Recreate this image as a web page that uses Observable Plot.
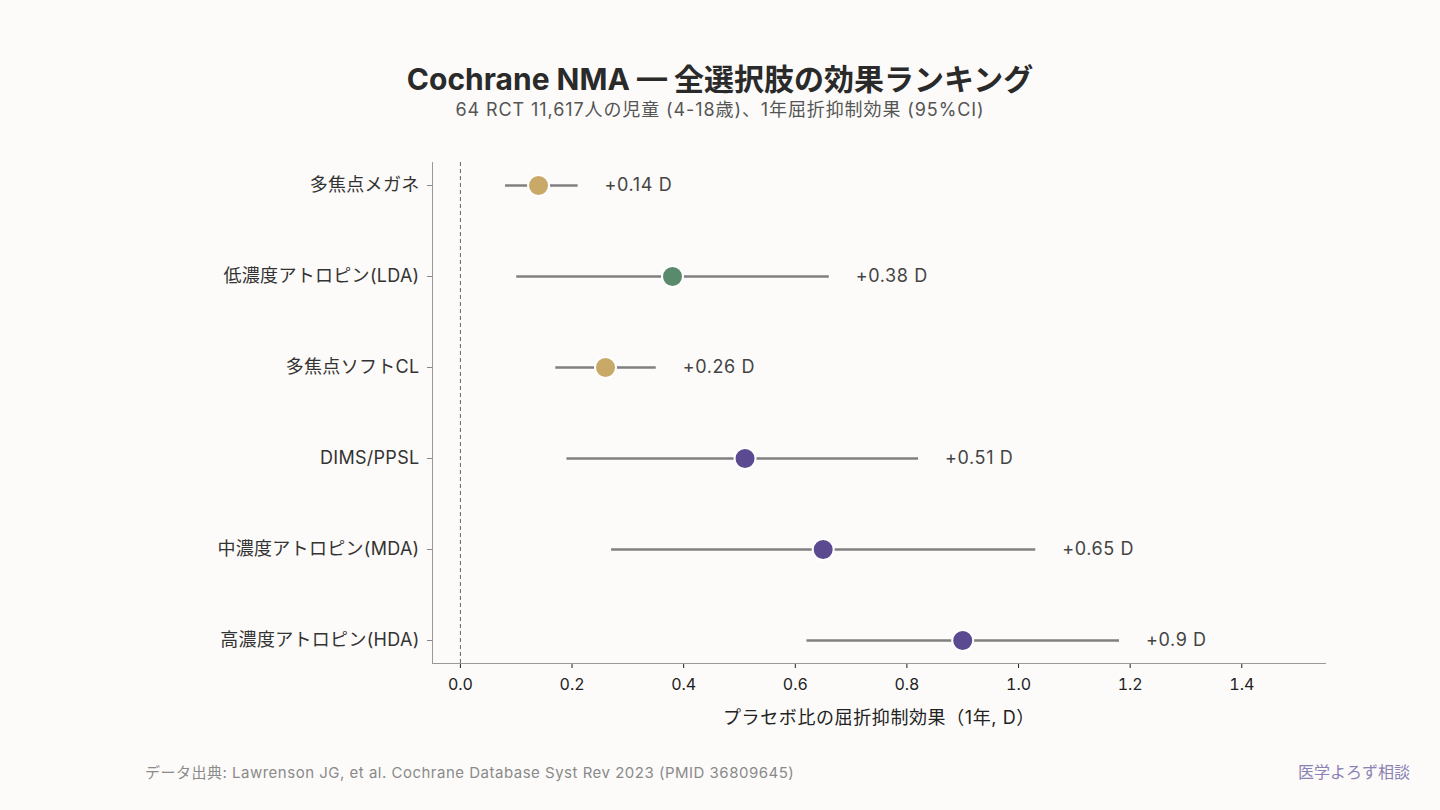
<!DOCTYPE html>
<html>
<head>
<meta charset="utf-8">
<script src="https://cdn.jsdelivr.net/npm/d3@7"></script>
<script src="https://cdn.jsdelivr.net/npm/@observablehq/plot@0.6"></script>
<style>
  html, body { margin: 0; padding: 0; background: #FCFBF9; width: 1440px; height: 810px; overflow: hidden; }
  body { position: relative; font-family: Inter, "Noto Sans CJK JP", sans-serif; }
  .abs { position: absolute; line-height: 1; white-space: nowrap; }
  #title { left: 0; width: 1440px; top: 64px; text-align: center; font-size: 30px; font-weight: bold; color: #2a2a2a; }
  #subtitle { left: 0; width: 1440px; top: 101px; text-align: center; font-size: 18px; letter-spacing: 0.9px; color: #555; }
  #chart { position: absolute; left: 0; top: 140px; }
  #source { left: 145px; top: 765px; font-size: 15px; letter-spacing: 0.5px; color: #8a8a8a; }
  #brand { right: 30px; top: 764px; font-size: 16px; color: #8A82B4; }
  #chart g[aria-label="text"] text { letter-spacing: 0.6px; }
  #chart g[aria-label="y-axis tick label"] text { letter-spacing: 0.3px; }
  #chart g[aria-label="x-axis label"] text { letter-spacing: 0.6px; }
</style>
</head>
<body>
<div id="title" class="abs">Cochrane NMA — 全選択肢の効果ランキング</div>
<div id="subtitle" class="abs">64 RCT 11,617人の児童 (4-18歳)、1年屈折抑制効果 (95%CI)</div>
<div id="chart"></div>
<div id="source" class="abs">データ出典: Lawrenson JG, et al. Cochrane Database Syst Rev 2023 (PMID 36809645)</div>
<div id="brand" class="abs">医学よろず相談</div>
<script>
const categories = ["多焦点メガネ", "低濃度アトロピン(LDA)", "多焦点ソフトCL", "DIMS/PPSL", "中濃度アトロピン(MDA)", "高濃度アトロピン(HDA)"];
const estimates = [0.14, 0.38, 0.26, 0.51, 0.65, 0.90];
const ciLow = [0.08, 0.10, 0.17, 0.19, 0.27, 0.62];
const ciHigh = [0.21, 0.66, 0.35, 0.82, 1.03, 1.18];
const tiers = ["small", "moderate", "small", "large", "large", "large"];
const tierNames = ["small", "moderate", "large"];
const tierColors = ["#C8A967", "#5A8A6C", "#5B4A8F"];
const xTicks = [0, 0.2, 0.4, 0.6, 0.8, 1.0, 1.2, 1.4];
const xDomain = [-0.05, 1.55];

const rows = categories.map((c, i) => ({
  cat: c, est: estimates[i], lo: ciLow[i], hi: ciHigh[i], tier: tiers[i],
  label: "+" + estimates[i] + " D"
}));

const font = 'Inter, "Noto Sans CJK JP", sans-serif';

const chart = Plot.plot({
  width: 1440,
  height: 600,
  marginTop: 22,
  marginBottom: 77,
  marginLeft: 432,
  marginRight: 115,
  style: { background: "transparent", fontFamily: font, fontSize: "16px", color: "#333" },
  x: { domain: xDomain },
  y: { type: "point", domain: categories, padding: 0.25 },
  color: { domain: tierNames, range: tierColors },
  marks: [
    Plot.ruleX([0], { stroke: "#666", strokeWidth: 1, strokeDasharray: "4,3" }),
    Plot.link(rows, { x1: "lo", x2: "hi", y1: "cat", y2: "cat", stroke: "#808080", strokeWidth: 2.5 }),
    Plot.dot(rows, { x: "est", y: "cat", r: 10.5, fill: "tier", stroke: "white", strokeWidth: 2 }),
    Plot.text(rows, { x: "hi", y: "cat", text: "label", dx: 27, textAnchor: "start", fontSize: 18, fill: "#444" }),
    Plot.axisY({ tickSize: 5, tickPadding: 8, label: null, fontSize: 18, stroke: "#888", color: "#333" }),
    Plot.ruleX([xDomain[0]], { stroke: "#999", strokeWidth: 1 }),
    Plot.axisX({ ticks: xTicks, tickFormat: d3.format(".1f"), tickSize: 5, tickPadding: 10, fontSize: 16, color: "#222", label: "プラセボ比の屈折抑制効果（1年, D）", labelAnchor: "center", labelArrow: "none", labelOffset: 60 }),
    Plot.frame({ anchor: "bottom", stroke: "#999" })
  ]
});
document.getElementById("chart").appendChild(chart);
const lab = chart.querySelector('g[aria-label="x-axis label"] text');
if (lab) lab.style.fontSize = "18px";
</script>
</body>
</html>
